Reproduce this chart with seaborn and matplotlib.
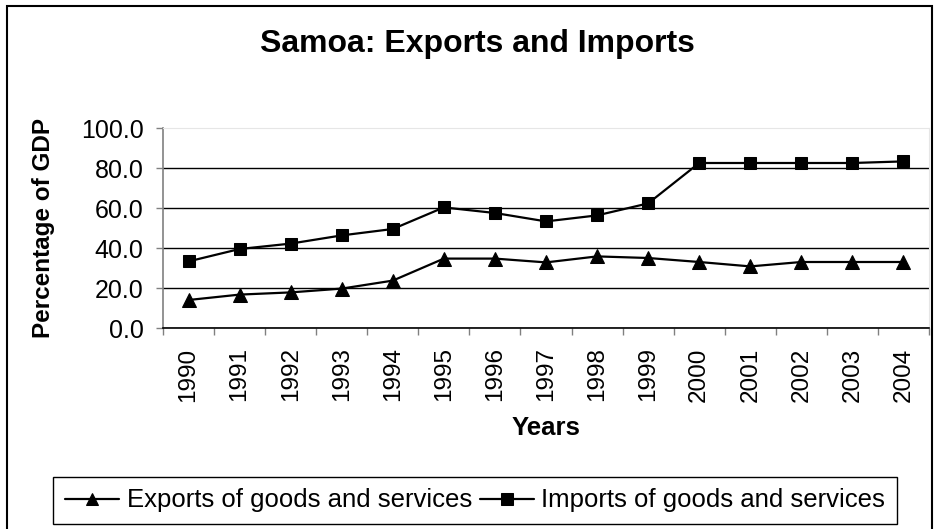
import matplotlib
matplotlib.use("Agg")
import matplotlib.pyplot as plt
import matplotlib.patches as mpatches
from matplotlib.ticker import FixedLocator, FormatStrFormatter
import seaborn as sns
import pandas as pd

years = list(range(1990, 2005))
exports = [14.0, 16.7, 17.8, 19.7, 23.7, 34.7, 34.7, 32.8, 35.8, 35.0, 33.0, 30.8, 33.0, 33.0, 33.0]
imports = [33.3, 39.5, 42.2, 46.3, 49.5, 60.3, 57.5, 53.3, 56.3, 62.3, 82.5, 82.5, 82.5, 82.5, 83.3]
exports_label = "Exports of goods and services"
imports_label = "Imports of goods and services"
title = "Samoa: Exports and Imports"
y_ticks = [0, 20, 40, 60, 80, 100]

sns.set_theme(style="white")
plt.rcParams["font.family"] = ["Liberation Sans", "DejaVu Sans"]
plt.rcParams["text.color"] = "black"
plt.rcParams["axes.labelcolor"] = "black"
plt.rcParams["xtick.color"] = "black"
plt.rcParams["ytick.color"] = "black"

W, H = 936, 529
fig = plt.figure(figsize=(W / 100, H / 100), dpi=100)
ax = fig.add_axes([163 / W, 1 - 328 / H, (929 - 163) / W, (328 - 128) / H])

df_e = pd.DataFrame({"Year": years, "Value": exports})
df_i = pd.DataFrame({"Year": years, "Value": imports})
sns.lineplot(data=df_e, x="Year", y="Value", ax=ax, color="black", marker="^",
             markersize=10, markeredgecolor="black", linewidth=1.6, label=exports_label)
sns.lineplot(data=df_i, x="Year", y="Value", ax=ax, color="black", marker="s",
             markersize=8.5, markeredgecolor="black", linewidth=1.6, label=imports_label)

ax.set_xlim(years[0] - 0.5, years[-1] + 0.5)
ax.set_ylim(y_ticks[0], y_ticks[-1])

# x axis: labels at category centres, tick marks at boundaries
ax.xaxis.set_major_locator(FixedLocator(years))
ax.set_xticklabels([str(y) for y in years], rotation=90, fontsize=17.5, color="black")
ax.xaxis.set_minor_locator(FixedLocator([y - 0.5 for y in years] + [years[-1] + 0.5]))
ax.tick_params(axis="x", which="major", length=0, pad=14, labelcolor="black", bottom=True)
ax.tick_params(axis="x", which="minor", length=5, width=1, color="#808080",
               direction="out", bottom=True)

ax.yaxis.set_major_locator(FixedLocator(y_ticks))
ax.yaxis.set_major_formatter(FormatStrFormatter("%.1f"))
ax.tick_params(axis="y", which="major", length=5, width=1, color="#808080",
               direction="out", pad=9, labelsize=18, labelcolor="black", left=True)

ax.yaxis.grid(True, color="black", linewidth=1.0)
ax.xaxis.grid(False)
ax.set_axisbelow(True)
gl = ax.yaxis.get_gridlines()
gl[-1].set_visible(False)

for side in ["top", "right"]:
    ax.spines[side].set_color("#e6e6e6")
    ax.spines[side].set_linewidth(0.8)
ax.spines["left"].set_color("#808080")
ax.spines["left"].set_linewidth(1.2)
ax.spines["bottom"].set_color("black")
ax.spines["bottom"].set_linewidth(1.2)

ax.set_xlabel("Years", fontsize=18.5, fontweight="bold", color="black")
ax.xaxis.set_label_coords(0.5, (328 - 416) / 200)
ax.xaxis.label.set_va("top")
ax.set_ylabel("Percentage of GDP", fontsize=17.5, fontweight="bold", color="black")
ax.yaxis.set_label_coords((55 - 163) / 766, 0.5)

fig.text(477.5 / W, 1 - 44 / H, title, fontsize=23, fontweight="bold",
         ha="center", va="center", color="black")

handles, labels = ax.get_legend_handles_labels()
ax.get_legend().remove()
leg = fig.legend(handles, labels, loc="center", bbox_to_anchor=(475 / W, 1 - 500.5 / H),
                 ncol=2, frameon=True, fancybox=False, shadow=False, fontsize=18.5,
                 handlelength=2.1, handletextpad=0.3, columnspacing=0.3,
                 borderpad=0.45, borderaxespad=0)
leg.get_frame().set_edgecolor("black")
leg.get_frame().set_linewidth(1.0)
leg.get_frame().set_alpha(1)
for t in leg.get_texts():
    t.set_color("black")
for h in leg.legend_handles:
    h.set_markersize(8.5)

# outer chart border
border = mpatches.Rectangle((7 / W, -0.02), (932 - 7) / W, 1.02 - 6 / H,
                            transform=fig.transFigure, fill=False,
                            edgecolor="black", linewidth=1.5)
fig.patches.append(border)

fig.savefig("out.png", dpi=100, facecolor="white")
